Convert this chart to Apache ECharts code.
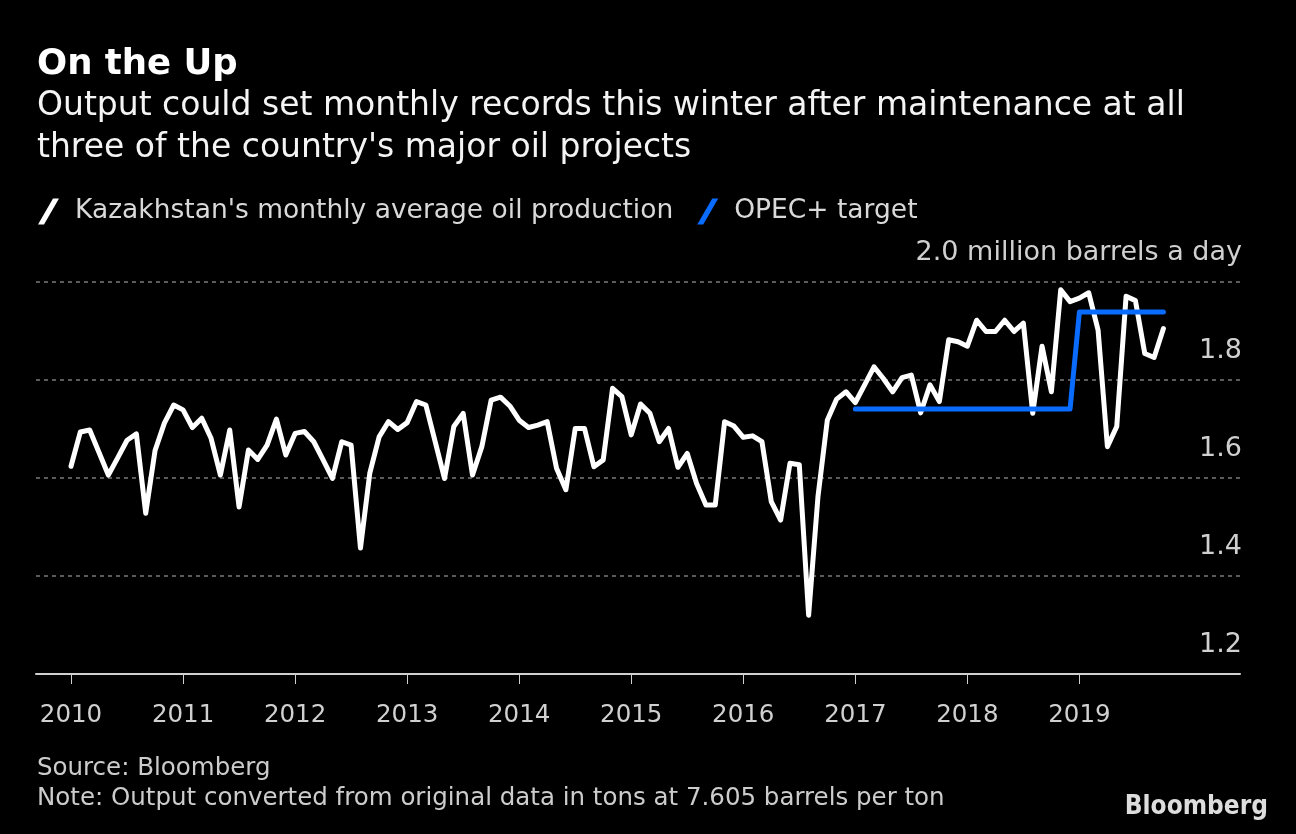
<!DOCTYPE html>
<html>
<head>
<meta charset="utf-8">
<script src="https://cdn.jsdelivr.net/npm/echarts@6/dist/echarts.min.js"></script>
<style>
html,body{margin:0;padding:0;background:#000;}
#chart{width:1296px;height:834px;}
</style>
</head>
<body>
<div id="chart"></div>
<script>
// ---- Data ----
var startYear = 2010;
var yearTicks = [2010, 2011, 2012, 2013, 2014, 2015, 2016, 2017, 2018, 2019];
// Kazakhstan monthly average oil production, million b/d, Jan 2010 .. Oct 2019
var production = [
  1.624,1.694,1.698,1.652,1.606,1.641,1.677,1.690,1.528,1.656,1.712,1.749,
  1.739,1.703,1.722,1.681,1.606,1.698,1.541,1.657,1.638,1.667,1.720,1.647,
  1.691,1.695,1.674,1.637,1.599,1.674,1.667,1.457,1.610,1.684,1.715,1.699,
  1.713,1.756,1.749,1.674,1.599,1.705,1.732,1.606,1.664,1.759,1.765,1.747,
  1.718,1.703,1.708,1.715,1.620,1.576,1.701,1.701,1.623,1.637,1.783,1.766,
  1.688,1.751,1.732,1.674,1.701,1.622,1.650,1.589,1.545,1.545,1.715,1.706,
  1.683,1.686,1.674,1.552,1.514,1.630,1.627,1.320,1.562,1.718,1.761,1.776,
  1.754,1.790,1.827,1.803,1.776,1.805,1.810,1.733,1.790,1.756,1.882,1.878,
  1.869,1.922,1.899,1.899,1.922,1.899,1.916,1.732,1.869,1.776,1.984,1.960,
  1.967,1.978,1.902,1.664,1.705,1.971,1.962,1.854,1.846,1.905
];
// OPEC+ target (million b/d)
var opecMonths = ['2017-01', '2018-12', '2019-01', '2019-10'];
var opecValues = [1.741, 1.741, 1.939, 1.939];

var titleText = 'On the Up';
var subtitleText = "Output could set monthly records this winter after maintenance at all\nthree of the country's major oil projects";
var seriesNames = ["Kazakhstan's monthly average oil production", 'OPEC+ target'];
var sourceText = 'Source: Bloomberg\nNote: Output converted from original data in tons at 7.605 barrels per ton';

// ---- Build ----
function monthIndex(s) {
  var p = s.split('-');
  return (parseInt(p[0], 10) - startYear) * 12 + parseInt(p[1], 10) - 1;
}
var prodData = production.map(function (v, i) { return [i, v]; });
var opecData = opecMonths.map(function (m, i) { return [monthIndex(m), opecValues[i]]; });
var tickPos = yearTicks.map(function (y) { return (y - startYear) * 12; });

var FONT = "'DejaVu Sans', sans-serif";
var FONT_C = "'DejaVu Sans Condensed', 'DejaVu Sans', sans-serif";
var slash = 'path://M0,26 L15,0 L21,0 L6,26 Z';

var chart = echarts.init(document.getElementById('chart'), null, {renderer: 'canvas'});
chart.setOption({
  backgroundColor: '#000000',
  animation: false,
  textStyle: {fontFamily: FONT},
  title: [
    {text: titleText, left: 37, top: 45, padding: 0,
     textStyle: {color: '#ffffff', fontSize: 35.5, fontWeight: 'bold', fontFamily: FONT, lineHeight: 40}},
    {text: subtitleText, left: 37, top: 85.5, padding: 0,
     textStyle: {color: '#f4f4f4', fontSize: 33, fontWeight: 'normal', fontFamily: FONT, lineHeight: 42}},
    {text: sourceText, left: 37, top: 754, padding: 0,
     textStyle: {color: '#cccccc', fontSize: 24.5, fontWeight: 'normal', fontFamily: FONT, lineHeight: 30}},
    {text: 'Bloomberg', right: 28, top: 792, padding: 0,
     textStyle: {color: '#dddddd', fontSize: 26, fontWeight: 'bold', fontFamily: FONT_C, lineHeight: 30}}
  ],
  legend: {
    left: 38, top: 198, padding: 0,
    itemWidth: 21, itemHeight: 26, itemGap: 24,
    textStyle: {color: '#d9d9d9', fontSize: 26.5, fontFamily: FONT, padding: [0, 0, 0, 11]},
    data: [
      {name: seriesNames[0], icon: slash, itemStyle: {color: '#ffffff'}},
      {name: seriesNames[1], icon: slash, itemStyle: {color: '#0a6cff'}}
    ]
  },
  grid: {left: 36, right: 56, top: 282, bottom: 160, containLabel: false},
  xAxis: {
    type: 'value', min: -3.75, max: 125.2,
    axisLine: {show: true, onZero: false, lineStyle: {color: '#d0d0d0', width: 2}},
    axisTick: {show: true, customValues: tickPos, length: 10, lineStyle: {color: '#d0d0d0', width: 1}},
    axisLabel: {show: true, customValues: tickPos, margin: 29, color: '#d0d0d0', fontSize: 24.5, fontFamily: FONT,
      formatter: function (v) { return String(startYear + Math.round(v / 12)); }},
    splitLine: {show: false}
  },
  yAxis: {
    type: 'value', position: 'right', min: 1.2, max: 2.0, interval: 0.2,
    axisLine: {show: false}, axisTick: {show: false},
    axisLabel: {inside: true, margin: -2, color: '#d0d0d0', fontSize: 27, fontFamily: FONT,
      verticalAlign: 'bottom', lineHeight: 58,
      formatter: function (v) {
        var t = v.toFixed(1);
        return Math.abs(v - 2.0) < 1e-6 ? t + ' million barrels a day' : t;
      }},
    splitLine: {show: true, showMinLine: false, lineStyle: {color: '#7a7a7a', width: 1.5, type: [4, 4]}}
  },
  series: [
    {name: seriesNames[0], type: 'line', data: prodData, showSymbol: false, symbol: 'none',
     lineStyle: {color: '#ffffff', width: 5, join: 'round', cap: 'round'}, itemStyle: {color: '#ffffff'}, z: 2},
    {name: seriesNames[1], type: 'line', data: opecData, showSymbol: false, symbol: 'none',
     lineStyle: {color: '#0a6cff', width: 5, join: 'round', cap: 'round'}, itemStyle: {color: '#0a6cff'}, z: 3}
  ]
});
</script>
</body>
</html>
